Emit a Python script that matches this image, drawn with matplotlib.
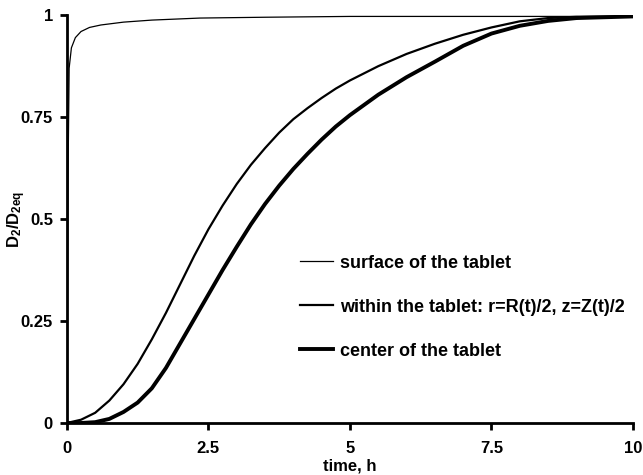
import matplotlib
matplotlib.use("Agg")
import matplotlib.pyplot as plt

plt.rcParams['font.family'] = ['Liberation Sans', 'DejaVu Sans']
plt.rcParams['font.weight'] = 'bold'
plt.rcParams['mathtext.fontset'] = 'custom'
plt.rcParams['mathtext.rm'] = 'Liberation Sans:bold'
plt.rcParams['mathtext.it'] = 'Liberation Sans:bold'
plt.rcParams['mathtext.bf'] = 'Liberation Sans:bold'

# поверхность таблетки
t_surface = [0, 0.02, 0.04, 0.08, 0.15, 0.25, 0.4, 0.6, 1.0, 1.5, 2.35, 3.5, 5, 7, 10]
y_surface = [0, 0.6, 0.87, 0.92, 0.945, 0.96, 0.97, 0.976, 0.983, 0.988, 0.993, 0.995,
             0.997, 0.997, 0.997]

# внутри таблетки: r=R(t)/2, z=Z(t)/2
t_within = [0, 0.25, 0.5, 0.75, 1.0, 1.25, 1.5, 1.75, 2.0, 2.25, 2.5, 2.75, 3.0, 3.25,
            3.5, 3.75, 4.0, 4.25, 4.5, 4.75, 5.0, 5.5, 6.0, 6.5, 7.0, 7.5, 8.0, 8.5,
            9.0, 10]
y_within = [0, 0.008, 0.025, 0.055, 0.095, 0.145, 0.205, 0.27, 0.34, 0.41, 0.475,
            0.533, 0.586, 0.633, 0.674, 0.712, 0.745, 0.772, 0.797, 0.82, 0.84, 0.875,
            0.905, 0.93, 0.952, 0.97, 0.985, 0.993, 0.996, 0.997]

# центр таблетки
t_center = [0, 0.25, 0.5, 0.75, 1.0, 1.25, 1.5, 1.75, 2.0, 2.25, 2.5, 2.75, 3.0, 3.25,
            3.5, 3.75, 4.0, 4.25, 4.5, 4.75, 5.0, 5.5, 6.0, 6.5, 7.0, 7.5, 8.0, 8.5,
            9.0, 10]
y_center = [0, 0.0, 0.002, 0.01, 0.027, 0.05, 0.085, 0.135, 0.195, 0.255, 0.315, 0.375,
            0.432, 0.487, 0.537, 0.582, 0.623, 0.66, 0.695, 0.727, 0.755, 0.805, 0.848,
            0.886, 0.925, 0.955, 0.974, 0.986, 0.993, 0.997]

labels = ['surface of the tablet',
          'within the tablet: r=R(t)/2, z=Z(t)/2',
          'center of the tablet']

x_ticks = [0, 2.5, 5, 7.5, 10]
x_tick_labels = ['0', '2.5', '5', '7.5', '10']
y_ticks = [0, 0.25, 0.5, 0.75, 1]
y_tick_labels = ['0', '0.25', '0.5', '0.75', '1']

fs_tick = 12
fs_legend = 13

fig = plt.figure(figsize=(6.43, 4.75), dpi=100)
ax = fig.add_axes([0.104, 0.1095, 0.8805, 0.8585])

ax.plot(t_surface, y_surface, color='black', lw=0.9, label=labels[0])
ax.plot(t_within, y_within, color='black', lw=1.6, label=labels[1])
ax.plot(t_center, y_center, color='black', lw=2.8, label=labels[2])

ax.set_xlim(0, 10)
ax.set_ylim(0, 1)
ax.set_xticks(x_ticks)
ax.set_xticklabels(x_tick_labels)
ax.set_yticks(y_ticks)
ax.set_yticklabels(y_tick_labels)
for s in ['top', 'right']:
    ax.spines[s].set_visible(False)
for s in ['left', 'bottom']:
    ax.spines[s].set_linewidth(2)
ax.tick_params(direction='out', length=5, width=2, labelsize=fs_tick)
ax.tick_params(axis='x', pad=8)
ax.tick_params(axis='y', pad=5)

ax.set_xlabel('time, h', fontsize=fs_tick, fontweight='bold', va='center')
ax.xaxis.set_label_coords(0.5, -0.105)
ax.set_ylabel('D$_2$/D$_{2eq}$', fontsize=fs_tick, fontweight='bold', va='center')
ax.yaxis.set_label_coords(-0.088, 0.5)

ax.legend(loc='upper left', bbox_to_anchor=(0.396, 0.435), frameon=False,
          handlelength=1.8, handletextpad=0.4, labelspacing=1.5,
          borderpad=0, prop={'size': fs_legend, 'weight': 'bold'})

fig.savefig('out.png', dpi=100)
